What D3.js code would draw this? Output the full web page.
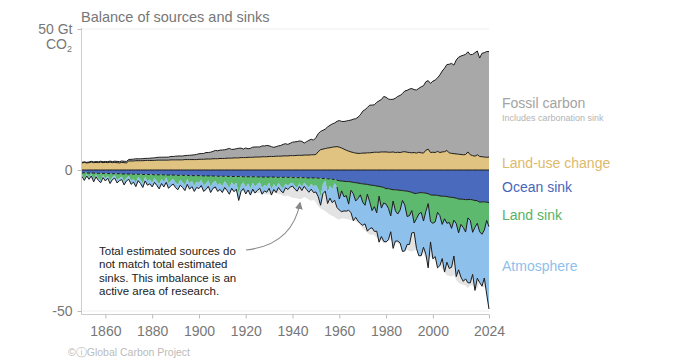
<!DOCTYPE html>
<html>
<head>
<meta charset="utf-8">
<script src="https://cdn.jsdelivr.net/npm/d3@7"></script>
<style>
  body { margin: 0; background: #fff; }
  text { font-family: "Liberation Sans", Arial, Helvetica, sans-serif; }
</style>
</head>
<body>
<div id="chart"></div>
<script>
// Global carbon budget, GtCO2 per year, 1850-2024
const startYear = 1850;
const endYear = 2024;

const fossil = [
  0.20,0.20,0.21,0.24,0.27,0.27,0.29,0.29,0.30,0.32,
  0.33,0.36,0.36,0.37,0.42,0.45,0.46,0.50,0.50,0.53,
  0.54,0.58,0.64,0.68,0.65,0.69,0.71,0.72,0.73,0.78,
  0.86,0.90,0.95,1.02,1.03,1.04,1.04,1.08,1.20,1.19,
  1.30,1.35,1.38,1.36,1.40,1.48,1.53,1.59,1.68,1.84,
  1.96,2.03,2.06,2.29,2.30,2.42,2.60,2.93,2.82,2.94,
  3.00,3.06,3.20,3.46,3.10,3.04,3.27,3.41,3.36,3.01,
  3.42,3.01,3.20,3.59,3.57,3.59,3.56,3.85,3.82,4.00,
  3.78,3.47,3.23,3.38,3.65,3.81,4.10,4.32,4.08,4.36,
  4.76,4.86,4.89,5.09,4.96,4.25,4.75,5.21,5.50,5.19,
  5.97,6.40,6.49,6.67,6.92,7.48,7.94,8.25,8.47,8.95,
  9.44,9.43,9.80,10.37,10.86,11.30,11.83,12.17,12.83,13.65,
  14.85,15.40,16.06,16.90,16.80,16.84,17.70,18.22,18.60,19.67,
  19.40,18.86,18.72,18.68,19.26,19.80,20.24,20.71,21.53,21.95,
  22.50,22.80,22.30,22.38,22.65,23.40,23.90,24.30,24.30,24.50,
  25.20,25.70,26.10,27.50,28.70,29.60,30.50,31.40,31.90,31.40,
  33.30,34.40,34.90,35.30,35.50,35.50,35.50,35.90,36.70,36.80,
  34.90,36.70,37.00,37.50,37.40
];

const landUse = [
  2.5,2.7,2.5,2.6,2.8,2.6,2.7,2.6,2.8,2.6,
  2.7,2.6,2.8,2.6,2.7,2.6,2.5,2.7,2.6,2.5,
  3.2,3.2,3.2,3.3,3.3,3.3,3.3,3.4,3.4,3.4,
  3.4,3.4,3.5,3.5,3.5,3.5,3.5,3.5,3.6,3.6,
  3.6,3.6,3.6,3.6,3.7,3.7,3.7,3.7,3.7,3.7,
  3.8,3.8,3.8,3.9,3.9,3.9,4.0,4.0,4.0,4.1,
  4.1,4.1,4.2,4.2,4.2,4.3,4.3,4.3,4.4,4.4,
  4.4,4.5,4.5,4.5,4.6,4.6,4.6,4.7,4.7,4.7,
  4.8,4.8,4.8,4.9,4.9,4.9,5.0,5.0,5.0,5.1,
  5.1,5.1,5.2,5.2,5.2,5.3,5.3,5.3,5.4,5.4,
  5.5,6.5,7.2,7.4,7.6,7.8,7.9,8.1,8.2,8.3,
  8.1,7.8,7.4,7.0,6.7,6.4,6.2,6.0,5.9,5.9,
  6.0,6.0,6.1,6.1,6.2,6.3,6.3,6.3,6.4,6.4,
  6.4,6.3,6.3,6.4,6.2,6.3,6.2,6.4,6.5,6.3,
  6.2,6.1,6.2,6.0,6.3,6.1,6.0,7.0,7.4,6.2,
  6.3,6.2,6.6,6.2,6.4,6.5,6.9,6.1,5.9,5.8,
  5.7,5.6,5.5,5.4,5.5,6.4,5.4,5.1,4.9,5.4,
  4.8,4.7,4.6,4.5,4.6
];

const oceanSink = [
  1.0,1.0,1.0,1.1,1.1,1.1,1.1,1.2,1.2,1.2,
  1.2,1.2,1.3,1.3,1.3,1.3,1.3,1.4,1.4,1.4,
  1.4,1.4,1.5,1.5,1.5,1.5,1.6,1.6,1.6,1.6,
  1.6,1.7,1.7,1.7,1.7,1.7,1.8,1.8,1.8,1.8,
  1.8,1.9,1.9,1.9,1.9,1.9,2.0,2.0,2.0,2.0,
  2.0,2.0,2.1,2.1,2.1,2.1,2.1,2.2,2.2,2.2,
  2.2,2.2,2.2,2.3,2.3,2.3,2.3,2.3,2.3,2.4,
  2.4,2.4,2.4,2.4,2.4,2.4,2.5,2.5,2.5,2.5,
  2.5,2.5,2.5,2.6,2.6,2.6,2.6,2.6,2.6,2.6,
  2.7,2.7,2.7,2.7,2.7,2.7,2.8,2.8,2.8,2.8,
  2.8,2.9,2.9,3.0,3.0,3.1,3.2,3.3,3.4,3.6,
  3.8,3.9,4.0,4.1,4.1,4.2,4.4,4.5,4.6,4.8,
  4.9,5.0,5.1,5.3,5.4,5.5,5.7,5.8,6.0,6.2,
  6.6,6.6,6.8,7.0,7.0,7.1,7.2,7.3,7.4,7.5,
  7.7,7.9,8.3,8.3,8.1,8.0,8.1,8.2,8.4,8.8,
  8.9,8.9,9.0,9.2,9.3,9.3,9.4,9.6,9.7,9.8,
  10.0,10.3,10.3,10.4,10.5,10.5,10.4,10.6,10.8,10.9,
  11.4,11.3,11.3,11.4,11.6
];

const landSink = [
  0.8,2.2,0.5,1.6,0.4,2.4,0.6,1.8,2.5,0.7,
  1.9,0.8,2.6,1.2,0.6,2.3,1.5,0.9,2.8,1.4,
  0.7,2.5,1.6,3.1,1.0,2.0,3.2,0.9,2.4,1.8,
  2.9,1.2,2.2,3.4,1.5,2.6,0.9,3.0,2.0,1.4,
  2.7,3.3,1.6,2.4,3.5,1.3,2.8,1.9,3.6,2.2,
  2.6,1.5,3.4,2.7,1.6,3.8,2.3,1.7,3.2,2.5,
  3.6,1.8,2.9,4.1,2.0,3.1,2.2,6.2,3.0,1.9,
  3.8,2.4,4.2,2.1,3.5,2.6,1.8,3.9,2.8,3.3,
  2.0,4.4,2.5,3.6,1.9,3.2,4.0,2.3,3.0,2.2,
  1.8,2.9,3.6,2.0,3.3,1.7,2.6,3.4,2.1,3.0,
  2.5,3.8,6.5,2.0,0.8,4.8,2.4,3.5,1.3,2.4,
  6.5,3.5,5.5,5.0,8.0,3.0,4.0,6.5,5.5,4.0,
  6.5,7.5,3.5,6.0,9.0,7.5,9.5,3.5,7.5,5.5,
  5.5,7.0,9.5,4.0,7.5,8.5,7.0,3.5,5.0,9.0,
  8.5,6.5,10.5,9.0,7.5,7.0,10.0,6.5,3.5,9.5,
  10.0,9.5,6.0,7.0,10.0,8.0,9.5,9.0,11.0,8.0,
  9.0,12.0,9.0,10.0,11.5,6.5,7.5,11.5,9.5,8.0,
  10.5,11.5,10.0,6.5,8.5
];

const atmosphere = [
  0.5,0.5,0.6,0.6,0.6,0.7,0.7,0.7,0.8,0.8,
  0.8,0.9,0.9,0.9,1.0,1.0,1.0,1.1,1.1,1.1,
  1.2,1.2,1.2,1.3,1.3,1.3,1.4,1.4,1.4,1.5,
  1.5,1.5,1.6,1.6,1.6,1.7,1.7,1.7,1.8,1.8,
  1.8,1.8,1.9,1.9,1.9,1.9,2.0,2.0,2.0,2.0,
  2.0,2.0,2.1,2.1,2.1,2.1,2.1,2.1,2.2,2.2,
  2.2,2.2,2.2,2.2,2.2,2.3,2.3,2.3,2.3,2.3,
  2.3,2.3,2.3,2.3,2.3,2.2,2.2,2.2,2.1,2.1,
  2.0,2.0,1.9,1.8,1.7,1.6,1.5,1.4,1.3,1.3,
  1.2,1.2,1.2,1.2,1.3,1.4,1.5,1.7,1.9,2.2,
  2.5,2.8,3.1,3.4,3.7,4.0,4.4,4.8,6.0,7.3,
  3.9,7.4,5.0,5.5,2.2,7.9,9.6,5.8,8.0,10.2,
  8.2,6.6,13.1,9.5,6.1,8.8,6.5,16.3,10.1,13.6,
  13.4,11.1,5.6,16.8,10.7,9.6,11.7,18.1,16.3,9.9,
  10.2,7.9,3.3,10.5,14.8,15.4,9.3,15.2,22.8,7.2,
  12.6,12.3,19.7,17.7,12.1,18.9,13.8,16.3,13.8,12.7,
  18.8,13.1,18.7,19.1,16.6,23.0,22.1,14.9,22.4,19.5,
  18.0,18.4,17.0,26.1,29.2
];

const xTicks = [1860, 1880, 1900, 1920, 1940, 1960, 1980, 2000, 2024];
const yTicks = [50, 0, -50];
const measuredFrom = 1959; // direct atmospheric measurements start

const width = 676, height = 363;

const svg = d3.select("#chart").append("svg")
    .attr("width", width)
    .attr("height", height);

const x = d3.scaleLinear().domain([startYear, endYear]).range([82, 489]);
const y = d3.scaleLinear().domain([-50, 50]).range([311, 29]);

const years = d3.range(startYear, endYear + 1);
const rows = years.map((yr, i) => ({
    year: yr,
    luc: landUse[i],
    src: landUse[i] + fossil[i],
    oc: -oceanSink[i],
    ld: -(oceanSink[i] + landSink[i]),
    at: -(oceanSink[i] + landSink[i] + atmosphere[i])
}));

// faint gridlines
svg.append("g").selectAll("line")
    .data([50, -50])
    .join("line")
    .attr("x1", 81).attr("x2", 489)
    .attr("y1", d => y(d)).attr("y2", d => y(d))
    .attr("stroke", "#eeeeee");

function band(lo, hi) {
    return d3.area().x(d => x(d.year)).y0(d => y(lo(d))).y1(d => y(hi(d)));
}

// imbalance: total sources mirrored below zero
svg.append("path").datum(rows)
    .attr("fill", "#e3e3e3")
    .attr("d", band(d => 0, d => -d.src));

svg.append("path").datum(rows)
    .attr("fill", "#a8a8a8")
    .attr("d", band(d => d.luc, d => d.src));

svg.append("path").datum(rows)
    .attr("fill", "#e0c281")
    .attr("d", band(d => 0, d => d.luc));

svg.append("path").datum(rows)
    .attr("fill", "#4a6bbd")
    .attr("d", band(d => 0, d => d.oc));

svg.append("path").datum(rows)
    .attr("fill", "#5cb96d")
    .attr("d", band(d => d.oc, d => d.ld));

svg.append("path").datum(rows)
    .attr("fill", "#8ec0ec")
    .attr("d", band(d => d.ld, d => d.at));

// outlines
function outline(data, acc, dash) {
    svg.append("path").datum(data)
        .attr("fill", "none")
        .attr("stroke", "#1b1b1b")
        .attr("stroke-width", 1)
        .attr("stroke-linejoin", "round")
        .attr("stroke-dasharray", dash || null)
        .attr("d", d3.line().x(d => x(d.year)).y(d => y(acc(d))));
}

const early = rows.filter(d => d.year <= measuredFrom);
const late = rows.filter(d => d.year >= measuredFrom);

outline(rows, d => d.src);
outline(rows, d => d.luc);
outline(rows, d => 0);
outline(early, d => d.oc, "3,2");
outline(late, d => d.oc);
outline(late, d => d.ld);
outline(rows, d => d.at);

// axes
svg.append("line")
    .attr("x1", 81.5).attr("x2", 81.5)
    .attr("y1", 28).attr("y2", 314)
    .attr("stroke", "#cccccc");

const yAxis = svg.append("g")
    .attr("transform", "translate(81.5,0)")
    .call(d3.axisLeft(y).tickValues(yTicks).tickSize(4).tickPadding(5)
        .tickFormat(d => d === 50 ? "50 Gt" : d));
yAxis.select(".domain").remove();
yAxis.selectAll(".tick line").attr("stroke", "#bbbbbb");
yAxis.selectAll(".tick text")
    .attr("fill", "#777")
    .style("font-size", "14px")
    .style("font-family", "'Liberation Sans', Arial, sans-serif");

const co2 = svg.append("text")
    .attr("x", 72).attr("y", 49)
    .attr("text-anchor", "end")
    .attr("fill", "#777")
    .style("font-size", "14px");
co2.append("tspan").text("CO");
co2.append("tspan").attr("dy", 3).style("font-size", "9px").text("2");

const xAxis = svg.append("g")
    .attr("transform", "translate(0,314.5)")
    .call(d3.axisBottom(x).tickValues(xTicks).tickSize(4).tickSizeOuter(0)
        .tickPadding(8).tickFormat(d3.format("d")));
xAxis.select(".domain").attr("stroke", "#cccccc").attr("d", "M81,0H489");
xAxis.selectAll(".tick line").attr("stroke", "#bbbbbb");
xAxis.selectAll(".tick text")
    .attr("fill", "#777")
    .style("font-size", "14px")
    .style("font-family", "'Liberation Sans', Arial, sans-serif");

// title
svg.append("text")
    .attr("x", 81).attr("y", 22)
    .attr("fill", "#777")
    .style("font-size", "14.5px")
    .text("Balance of sources and sinks");

// series labels
const labels = [
    { text: "Fossil carbon", y: 108, color: "#a3a3a3", size: 14 },
    { text: "Includes carbonation sink", y: 121, color: "#b3b3b3", size: 9 },
    { text: "Land-use change", y: 168, color: "#dcb96d", size: 14 },
    { text: "Ocean sink", y: 192, color: "#4767b9", size: 14 },
    { text: "Land sink", y: 220, color: "#55b266", size: 14 },
    { text: "Atmosphere", y: 271, color: "#8fbfea", size: 14 }
];
svg.append("g").selectAll("text")
    .data(labels)
    .join("text")
    .attr("x", 502)
    .attr("y", d => d.y)
    .attr("fill", d => d.color)
    .style("font-size", d => d.size + "px")
    .text(d => d.text);

// annotation
const note = [
    "Total estimated sources do",
    "not match total estimated",
    "sinks. This imbalance is an",
    "active area of research."
];
svg.append("g").selectAll("text")
    .data(note)
    .join("text")
    .attr("x", 99)
    .attr("y", (d, i) => 255 + i * 13.4)
    .attr("fill", "#222")
    .style("font-size", "11.5px")
    .text(d => d);

svg.append("defs").append("marker")
    .attr("id", "arrow")
    .attr("viewBox", "0 0 10 10")
    .attr("refX", 8).attr("refY", 5)
    .attr("markerWidth", 7).attr("markerHeight", 7)
    .attr("orient", "auto")
    .append("path")
    .attr("d", "M0,0L10,5L0,10z")
    .attr("fill", "#888");

svg.append("path")
    .attr("d", "M246,250Q292,245 300,203")
    .attr("fill", "none")
    .attr("stroke", "#888")
    .attr("stroke-width", 1.1)
    .attr("marker-end", "url(#arrow)");

// footer
svg.append("text")
    .attr("x", 68).attr("y", 356)
    .attr("fill", "#bbbbbb")
    .style("font-size", "10.5px")
    .text("\u00A9\u24D8Global Carbon Project");
</script>
</body>
</html>
